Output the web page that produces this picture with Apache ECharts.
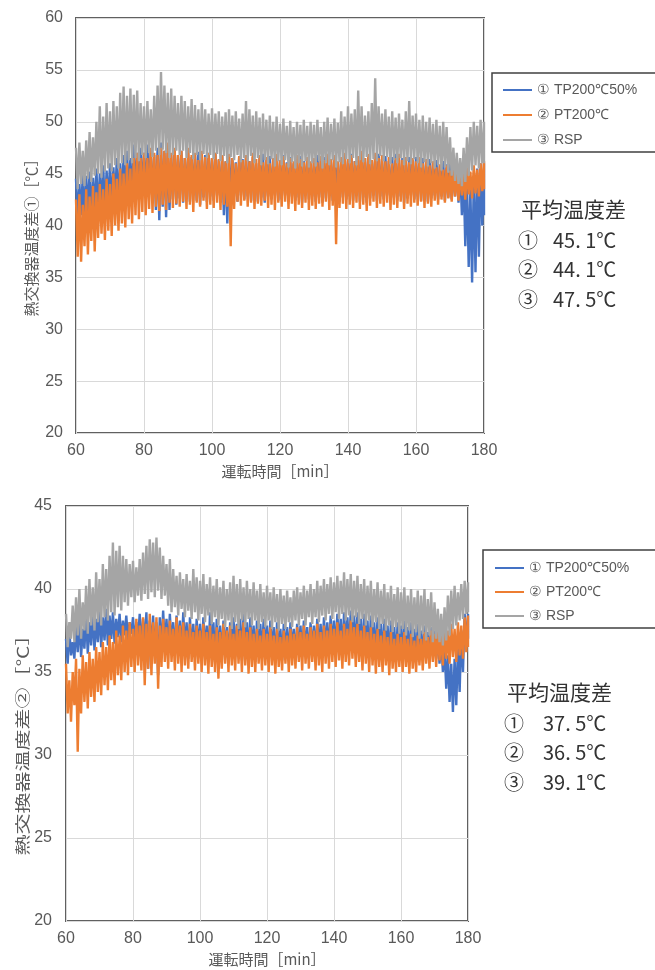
<!DOCTYPE html>
<html>
<head>
<meta charset="utf-8">
<script src="https://cdn.jsdelivr.net/npm/echarts@6/dist/echarts.min.js"></script>
<style>
  html, body { margin: 0; padding: 0; background: #fff; }
  #chart { width: 655px; height: 970px; }
</style>
</head>
<body>
<div id="chart"></div>
<script>
// Operating time starts at 60 min; each array holds one reading per minute (60..180).
const startMin = 60;
const xTicks = [60, 80, 100, 120, 140, 160, 180];
const seriesNames = ['① TP200℃50%', '② PT200℃', '③ RSP'];
const avgTop = ['45. 1℃', '44. 1℃', '47. 5℃'];
const avgBottom = ['37. 5℃', '36. 5℃', '39. 1℃'];

// ---- Heat exchanger temperature difference ① : per-minute upper / lower readings ----
const tpTopHi = [
  44.5,44,45,44.8,45.2,44.6,45.5,45,45.8,45.3,
  46,45.6,46.5,46,46.8,47.2,46.5,47.8,47,47.5,
  47,47.8,47.2,46.8,47.5,48,47.2,47.6,46.8,47.3,
  46.8,47.2,46.5,47,46.6,46.9,47.1,46.4,46.8,47,
  46.5,47,46.3,46.8,46.2,46.9,46.5,46.1,46.7,46.4,
  46.8,46.2,46.6,46,46.5,46.9,46.3,46.7,46.1,46.5,
  46.3,46.8,46.1,46.6,46,46.4,46.7,46.2,46.5,46,
  46.4,46.8,46.2,46.6,46.9,46.3,46.7,46.1,46.5,46.8,
  46.4,46.9,46.2,46.7,47,46.5,46.8,46.3,46.6,46.9,
  46.4,46.7,46.2,46.6,46.9,46.3,46.5,46.1,46.6,46.3,
  46.6,46.2,46.5,46,46.4,46.1,46.3,45.8,46.2,45.9,
  46.1,45.6,46,45.5,45,44,43.5,44.5,45.5,46,
  46
];
const tpTopLo = [
  40.5,41,40.2,41.2,40.8,41.5,41,41.8,41.3,42,
  41.6,42.2,41.8,42.5,42,42.8,42.3,43,42.5,43.2,
  42.8,43,42.5,41.5,40.5,41.8,40.8,41.5,42.5,42,
  42.6,42.2,42.8,42.3,42.9,42.4,42,42.7,42.3,42.8,
  42.4,42.9,42.2,41,40.2,42.5,42.8,42.3,42.9,42.5,
  42.8,42.4,42.9,42.3,42.7,42.2,42.8,42.5,42.9,42.4,
  42.5,42.9,42.3,42.8,42.4,42.7,42.2,42.9,42.5,42.8,
  42.3,42.7,42.2,42.6,42.9,42.4,42.8,42.3,42.7,42.5,
  42.8,42.4,42.9,42.3,42.7,42.2,42.6,42.9,42.4,42.8,
  42.5,42.9,42.3,42.7,42.4,42.8,42.2,42.6,42.9,42.5,
  42.8,42.4,42.7,42.3,42.6,42.9,42.5,42.8,42.4,42.7,
  42.5,42.8,42.2,41,38,36,34.5,35.5,37,40,
  41
];
const ptTopHi = [
  42.5,43,42,43.5,42.8,43.8,43.2,44,43.5,44.5,
  44,45,44.5,45.5,45,46,45.5,46.5,47,46.5,
  47,46.5,47.5,47,46.8,47.5,47.2,48,47,47.5,
  46.8,47.2,46.5,47.5,46.8,47,46.3,47.2,46.6,47,
  46.5,47,46.4,46.8,46.2,46.9,46.5,46,46.7,46.3,
  46.8,46.2,47,46.4,46.8,46.1,46.6,46,46.5,46.9,
  46.3,46.7,46,46.5,46.2,46.8,46.4,46.1,46.6,46.2,
  46.5,46.1,46.7,46.3,46.9,46.4,46.8,46.2,46.6,47,
  46.4,46.8,46.2,46.7,47.2,46.5,46.9,46.3,47,46.5,
  46.8,46.2,46.6,46,46.5,46.9,46.3,46.6,46.1,46.5,
  46.2,46.6,46,46.4,45.8,46.2,45.6,45.9,45.4,45.8,
  45.3,45.7,45.1,45.5,45,45.6,45.2,45.8,45.4,46,
  46.2
];
const ptTopLo = [
  37,36.5,38,37.2,38.5,37.5,38.8,39.2,38.6,39.5,
  39,40,39.5,40.2,39.8,40.6,40.2,41,40.6,41.3,
  41,41.6,41.2,41.8,41.4,42,41.5,42.2,41.7,42.1,
  41.8,42.3,41.6,42,41.3,42.2,41.8,42.4,41.6,42,
  41.7,42.2,41.5,42,41.8,38,41.6,42.3,41.9,42.4,
  41.8,42.2,41.6,42.1,41.9,42.4,41.7,42,41.5,42.2,
  41.8,42.3,41.6,42.1,41.4,42,41.7,42.2,41.5,41.9,
  41.6,42.1,41.8,42.3,41.5,41.9,38.2,41.7,42.1,41.6,
  42,41.7,42.2,41.6,42,41.4,41.9,42.3,41.7,42.1,
  41.8,42.2,41.5,42,41.7,42.3,41.6,42.1,41.8,42.2,
  41.9,42.3,41.7,42.1,41.8,42.4,42,42.5,42.2,42.6,
  42.3,42.8,42.4,42.9,42.5,43,42.6,43.1,42.8,43.3,
  43.5
];
const rspTopHi = [
  47.5,48,47.2,48.2,49,48.5,50,51.5,50.5,51.8,
  51,52,51.5,52.8,53.4,52.5,53.2,52.6,53,51.8,
  51.5,52,51.2,52.5,53.5,54.8,53.5,52.8,53.2,52.5,
  51.8,52.5,52,51.5,52.2,51.6,51.2,51.8,51.2,50.8,
  51.3,50.8,51,50.5,50.9,51.2,50.6,51,50.3,50.8,
  52,51.2,50.6,51,50.4,50.8,50.2,50.6,50,50.5,
  49.8,50.3,49.6,50.1,49.5,50,49.7,50.2,49.6,50,
  49.7,50.2,49.5,50,50.4,49.8,50.3,49.9,51,50.5,
  51.5,50.8,51.2,53,51.5,50.6,51,51.8,54.2,51.5,
  50.8,51.2,50.5,51,50.4,50.8,50.2,51,52,50.6,
  50.8,50.2,50.6,50,50.4,49.8,50.2,49.6,50,49.5,
  48.5,47.5,47,46.5,47.5,48.5,49.5,50,49.6,50.2,
  50
];
const rspTopLo = [
  43.5,44,43.8,44.5,44.2,44.8,45,44.6,45.2,45.5,
  45.2,45.8,45.5,46,45.8,46.3,46,46.5,46.2,46.8,
  46.5,47,46.6,47.2,46.8,47.3,47,46.5,46.8,47.2,
  46.8,47.2,46.5,47,46.4,46.8,46.3,46.9,46.5,46.8,
  46.4,46.9,46.2,46.7,46,46.6,46.3,46.8,46.1,46.5,
  46.2,46.7,46,46.5,45.8,46.3,45.9,46.4,45.7,46.2,
  45.8,46.3,45.6,46.1,45.5,46,45.7,46.2,45.6,46,
  45.7,46.2,45.5,46,45.8,46.3,45.6,46.1,45.9,46.4,
  46,46.5,45.8,46.3,46.1,46.6,45.9,46.4,46.2,46.7,
  46.2,46.6,45.9,46.3,46,46.5,45.8,46.2,45.9,46.4,
  46,45.6,46.1,45.7,46,45.5,45.8,45.3,45.6,45.1,
  44.8,44.3,44,43.8,44.2,44.8,45.3,45.8,45.5,46,
  46
];

// ---- Heat exchanger temperature difference ② ----
const tpBotHi = [
  37,37.5,36.8,37.8,38.2,37.6,38.5,38,38.6,38.2,
  38.7,38.3,38.8,38.4,38.6,38.2,38.5,38.1,38.4,38,
  38.3,38,38.5,38.2,38.6,38.1,38.4,38,38.3,38.7,
  38.2,38.5,38,38.4,38.1,38.6,38,38.3,37.9,38.2,
  37.9,38.3,37.8,38.6,38,38.2,37.8,38.1,37.7,38,
  38.3,37.9,38.2,38.5,38,38.3,37.8,38.1,37.9,38.2,
  37.8,38.1,37.7,38,37.6,37.9,37.7,38,37.6,37.9,
  37.8,38.1,37.7,38,37.8,38.2,37.9,38.3,38,38.4,
  38.1,38.5,38.2,38.6,38.3,38.7,38.4,38.6,38.2,38.5,
  38.1,38.4,38,38.3,37.9,38.2,37.8,38.1,37.7,38,
  37.8,38.1,37.7,38,37.6,37.9,37.5,37.8,37.4,37.7,
  37.5,37.2,37,36.5,36,35.5,35.8,36.5,37.5,38.5,
  38.5
];
const tpBotLo = [
  35.5,36,35.8,36.2,35.9,36.4,36.1,36.6,36.3,36.8,
  36.5,36.9,36.6,37,36.7,37.1,36.8,37.2,36.9,37.3,
  36.8,37,36.5,36.8,35.2,36.5,36,34.8,36.3,36.6,
  36.2,36.6,36,36.4,35.9,36.3,35.8,36.2,35.9,36.3,
  35.8,36.2,35.7,36.1,35.6,36,35.8,36.2,35.7,36.1,
  35.9,36.3,35.7,36.1,35.8,36.2,35.6,36,35.9,36.3,
  35.8,36.2,35.6,36,35.7,36.1,35.9,36.3,35.8,36.2,
  35.9,36.3,35.8,36.2,36,36.4,35.9,36.3,36.1,36.5,
  36.2,36.6,36.1,36.5,36.3,36.7,36.2,36.6,36,36.4,
  35.9,36.3,35.8,36.2,35.7,36.1,35.8,36.2,35.6,36,
  35.8,36.2,35.7,36.1,35.6,36,35.8,36.2,35.7,36.1,
  35.8,35.5,35,34,33.2,32.6,33,33.8,35,36.5,
  37
];
const ptBotHi = [
  35.5,34.5,35,35.8,35.2,36,35.6,36.2,35.8,36.5,
  36.2,36.8,36.5,37.2,36.8,37.5,37.2,37.8,37.5,38,
  37.6,38.2,37.8,38.3,37.9,38.5,38,38.3,37.8,38.2,
  37.7,38.1,37.6,38.3,37.8,38,37.5,37.9,37.4,37.8,
  37.5,37.9,37.4,37.8,37.3,37.7,37.4,37.9,37.5,37.8,
  37.3,37.8,37.5,38,37.4,37.7,37.3,37.6,37.2,37.6,
  37.3,37.7,37.2,37.6,37.1,37.5,37.2,37.6,37.3,37.7,
  37.4,37.8,37.3,37.7,37.5,37.9,37.4,37.8,37.5,37.9,
  37.6,38,37.5,37.9,37.6,38.1,37.7,37.9,37.5,37.8,
  37.4,37.7,37.3,37.6,37.2,37.5,37.1,37.4,37,37.3,
  37.1,37.4,37,37.3,36.9,37.2,37,37.4,37.1,37.5,
  37.3,37.7,37.4,37.8,37.5,37.9,37.6,38,37.8,38.3,
  38.4
];
const ptBotLo = [
  32.5,32,33,30.2,32.5,33.2,32.8,33.5,33.2,33.8,
  33.6,34.2,33.9,34.5,34.2,34.8,34.5,35,34.8,35.3,
  35,35.4,35.1,34.2,35.2,34.8,35.5,34,35.3,35.6,
  35.2,35.6,35.1,35.5,35,35.4,35.2,35.6,35.1,35.5,
  35,35.4,34.9,35.3,35,34.6,35.2,35.5,35,35.4,
  35.1,35.5,35,35.4,34.9,35.3,35,35.5,35.1,35.4,
  35,35.4,34.9,35.3,35.1,35.5,35,35.4,35.2,35.6,
  35.1,35.5,35.2,35.6,35.1,35.4,35,35.5,35.2,35.6,
  35.3,35.7,35.2,35.6,35.4,35.8,35.3,35.6,35.1,35.5,
  35,35.4,34.9,35.3,35,35.4,34.8,35.2,35,35.3,
  35,35.3,34.9,35.2,35,35.4,35.1,35.5,35.2,35.6,
  35.3,35.7,35.4,35.8,35.5,35.9,35.6,36,35.8,36.2,
  36.5
];
const rspBotHi = [
  38.5,38,39,39.5,40,39.2,40.2,40.6,40.1,41,
  40.6,41.5,41.2,42,42.8,42.3,42.6,42,41.8,41.5,
  41.7,41.3,41.8,42.2,42.6,43,42.8,43.1,42.5,42,
  41.5,41.8,41.2,40.8,41,40.6,40.9,40.5,41.2,40.7,
  40.5,40.9,40.3,40.7,40.2,40.6,40.1,40.5,40,40.4,
  40.8,40.3,40.6,40.1,40.5,40,40.4,39.9,40.3,39.8,
  40.2,39.8,40.1,39.7,40,39.6,39.9,39.5,39.9,40.1,
  39.8,40.2,39.9,40.3,40,40.5,40.2,40.6,40.3,40.7,
  40.4,40.8,40.5,41,40.6,40.9,40.5,40.8,40.3,40.6,
  40.2,40.5,40,40.4,39.9,40.3,39.8,40.2,39.7,40.1,
  39.8,40.1,39.6,40,39.5,39.9,39.6,40,39.4,39.8,
  39.2,38.8,38.5,38.9,39.6,39.9,40.2,39.8,40.3,40.5,
  40.4
];
const rspBotLo = [
  36.5,37,36.8,37.2,37,37.5,37.3,37.8,37.5,38,
  37.8,38.3,38.1,38.6,38.4,38.9,38.7,39.2,39,39.5,
  39.2,39.6,39.3,39.7,39.4,39.8,39.5,39.9,39.4,39.6,
  39,38.6,38.9,38.4,38.8,38.3,38.7,38.2,38.6,38.1,
  38.5,38,38.4,37.9,38.3,37.8,38.2,37.7,38.1,37.6,
  38,37.6,38.1,37.7,38.2,37.8,38.1,37.6,38,37.7,
  38.1,37.6,38,37.5,37.9,37.6,38,37.7,38.1,37.8,
  38.2,37.8,38.3,37.9,38.3,38,38.4,38.1,38.5,38.2,
  38.6,38.2,38.5,38.1,38.4,38,38.3,37.9,38.2,37.8,
  38.1,37.7,38,37.6,37.9,37.5,37.8,37.4,37.7,37.3,
  37.6,37.2,37.5,37.1,37.4,37,37.3,36.9,37.2,36.8,
  37,36.8,36.6,36.9,37.2,37.6,37.8,38.1,38.2,38.5,
  38.6
];

const colors = ['#4472C4', '#ED7D31', '#A5A5A5'];

// Each minute contributes its upper reading, then its lower reading half a minute later.
function trace(hi, lo) {
  const pts = [];
  for (let i = 0; i < hi.length; i++) {
    pts.push([startMin + i, hi[i]]);
    const t = i < hi.length - 1 ? startMin + i + 0.5 : startMin + i;
    pts.push([t, lo[i]]);
  }
  return pts;
}

const labelColor = '#595959';
const numFont = '"Liberation Sans", Arial, sans-serif';
const jpFont = '"Noto Sans CJK JP", sans-serif';

function xAxisCfg(gridIndex) {
  return {
    type: 'value', gridIndex, min: 60, max: 180, interval: 20,
    name: '運転時間［min］', nameLocation: 'middle', nameGap: 31,
    nameTextStyle: { color: labelColor, fontSize: 15, fontFamily: jpFont },
    axisLine: { show: false }, axisTick: { show: false },
    axisLabel: { color: labelColor, fontSize: 16, fontFamily: numFont, margin: 10,
      formatter: v => xTicks.includes(v) ? String(v) : '' },
    splitLine: { show: true, lineStyle: { color: '#d9d9d9', width: 1 } }
  };
}
function yAxisCfg(gridIndex, max, margin) {
  return {
    type: 'value', gridIndex, min: 20, max, interval: 5,
    axisLine: { show: false }, axisTick: { show: false },
    axisLabel: { color: labelColor, fontSize: 16, fontFamily: numFont, margin },
    splitLine: { show: true, lineStyle: { color: '#d9d9d9', width: 1 } }
  };
}

function lineSeries(name, color, data, gi) {
  return {
    name, type: 'line', xAxisIndex: gi, yAxisIndex: gi, data,
    symbol: 'none', showSymbol: false, sampling: null,
    lineStyle: { color, width: 2.4, join: 'bevel' }, itemStyle: { color },
    animation: false
  };
}

const series = [
  lineSeries(seriesNames[0], colors[0], trace(tpTopHi, tpTopLo), 0),
  lineSeries(seriesNames[1], colors[1], trace(ptTopHi, ptTopLo), 0),
  lineSeries(seriesNames[2], colors[2], trace(rspTopHi, rspTopLo), 0),
  lineSeries(seriesNames[0], colors[0], trace(tpBotHi, tpBotLo), 1),
  lineSeries(seriesNames[1], colors[1], trace(ptBotHi, ptBotLo), 1),
  lineSeries(seriesNames[2], colors[2], trace(rspBotHi, rspBotLo), 1)
];

function legendCfg(left, top, gap) {
  return {
    orient: 'vertical', left, top, itemGap: gap, itemWidth: 29, itemHeight: 2,
    icon: 'rect', data: seriesNames, selectedMode: false,
    textStyle: { color: labelColor, fontSize: 14, fontFamily: numFont }
  };
}

function avgBlock(x, y, values, numX) {
  const els = [{
    type: 'text', x, y,
    style: { text: '平均温度差', font: '21px ' + jpFont, fill: '#333',
      align: 'left', verticalAlign: 'middle', textAlign: 'left', textVerticalAlign: 'middle' }
  }];
  const marks = ['①', '②', '③'];
  values.forEach((v, i) => {
    const yy = y + 31 + i * 29.5;
    els.push({ type: 'text', x: x - 3, y: yy,
      style: { text: marks[i], font: '20px ' + jpFont, fill: '#333',
        align: 'left', verticalAlign: 'middle', textAlign: 'left', textVerticalAlign: 'middle' } });
    els.push({ type: 'text', x: numX, y: yy,
      style: { text: v, font: '20px ' + jpFont, fill: '#333',
        align: 'left', verticalAlign: 'middle', textAlign: 'left', textVerticalAlign: 'middle' } });
  });
  return els;
}

function yTitle(x, y, text, stretch) {
  return {
    type: 'text', x, y, rotation: Math.PI / 2, scaleX: stretch,
    style: { text, font: '15px ' + jpFont, fill: labelColor,
      align: 'center', verticalAlign: 'middle', textAlign: 'center', textVerticalAlign: 'middle' }
  };
}

const chart = echarts.init(document.getElementById('chart'), null, { renderer: 'canvas' });
chart.setOption({
  animation: false,
  backgroundColor: '#fff',
  grid: [
    { left: 76, top: 18, width: 408, height: 415, show: true, borderColor: '#606060', borderWidth: 2, backgroundColor: 'transparent' },
    { left: 66, top: 506, width: 402, height: 415, show: true, borderColor: '#606060', borderWidth: 2, backgroundColor: 'transparent' }
  ],
  xAxis: [xAxisCfg(0), xAxisCfg(1)],
  yAxis: [yAxisCfg(0, 60, 13), yAxisCfg(1, 45, 14)],
  legend: [legendCfg(498, 78, 11), legendCfg(490, 556, 10)],
  series,
  graphic: [
    { type: 'rect', shape: { x: 492, y: 73, width: 200, height: 79 },
      style: { fill: 'none', stroke: '#404040', lineWidth: 1.5 } },
    { type: 'rect', shape: { x: 483, y: 550, width: 200, height: 78 },
      style: { fill: 'none', stroke: '#404040', lineWidth: 1.5 } },
    yTitle(31, 234, '熱交換器温度差①［℃］', 1),
    yTitle(22, 740, '熱交換器温度差②［℃］', 1.4),
    ...avgBlock(521, 209, avgTop, 553),
    ...avgBlock(507, 692, avgBottom, 543)
  ]
});
</script>
</body>
</html>
